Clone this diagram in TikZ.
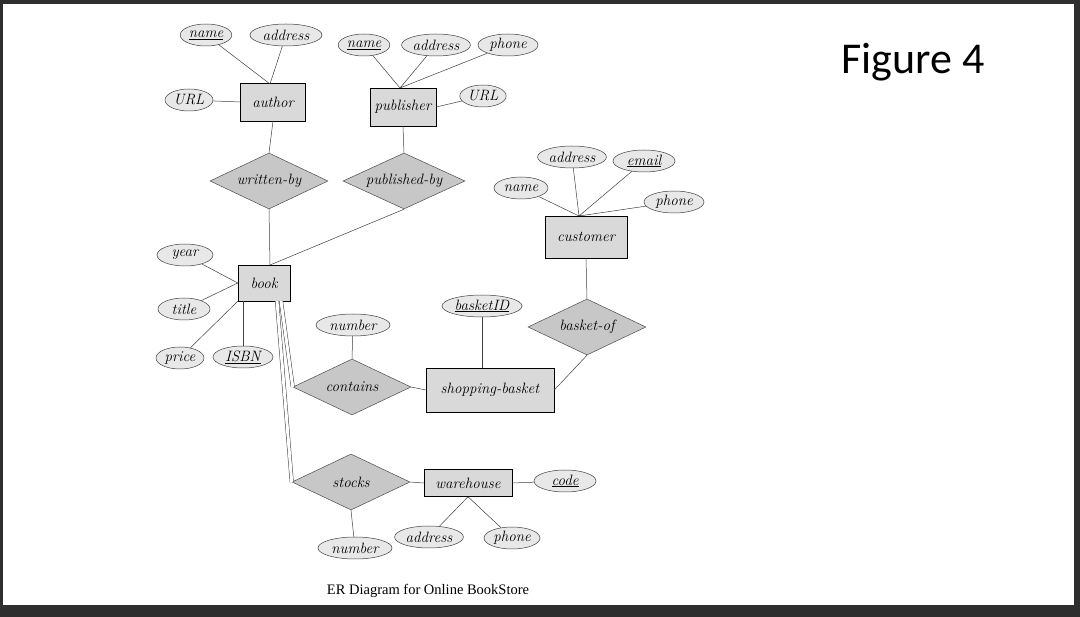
\documentclass[tikz,border=0pt]{standalone}
\usepackage{fontspec}
\newfontfamily\figfont{Carlito}
\newfontfamily\capfont{Liberation Serif}
\usetikzlibrary{shapes.geometric}
\begin{document}
\begin{tikzpicture}[x=1pt,y=-1pt,line width=0.5pt,
 attr/.style={ellipse,draw=black!75,fill=black!9,minimum height=22,inner sep=1pt,font=\itshape\fontsize{15}{15}\selectfont},
 ent/.style={rectangle,draw,fill=black!15,minimum height=38,inner sep=2pt,font=\itshape\fontsize{15}{15}\selectfont},
 rel/.style={diamond,draw=black!70,fill=black!22,aspect=2.1,minimum width=118,minimum height=56,inner sep=0pt,font=\itshape\fontsize{15}{15}\selectfont},
 ln/.style={draw=black!75},
 dbl/.style={draw=black!75,double,double distance=3pt}]
\fill[black!82] (0,0) rectangle (1080,617);
\fill[white] (3,4) rectangle (1074,605);
% entities
\node[ent,minimum width=65] (author) at (273,102) {author};
\node[ent,minimum width=66] (publisher) at (403,107) {publisher};
\node[ent,minimum width=82,minimum height=42] (customer) at (586,237) {customer};
\node[ent,minimum width=52,minimum height=36] (book) at (264,283) {book};
\node[ent,minimum width=128,minimum height=44] (basket) at (490,390) {shopping-basket};
\node[ent,minimum width=88,minimum height=27] (warehouse) at (468,483) {warehouse};
% relationships
\node[rel] (written) at (269,181) {\makebox[0pt]{written-by}};
\node[rel,minimum width=122] (published) at (404,181) {\makebox[0pt]{published-by}};
\node[rel] (basketof) at (587,327) {\makebox[0pt]{basket-of}};
\node[rel] (contains) at (352,387) {\makebox[0pt]{contains}};
\node[rel] (stocks) at (351,482) {\makebox[0pt]{stocks}};
% attributes
\node[attr,minimum width=50] (aname) at (206,35) {\underline{name}};
\node[attr,minimum width=72] (aaddr) at (286,35) {address};
\node[attr,minimum width=48] (aurl) at (189,100) {URL};
\node[attr,minimum width=50] (pname) at (364,45) {\underline{name}};
\node[attr,minimum width=64] (paddr) at (436,45) {address};
\node[attr,minimum width=60] (pphone) at (508,45) {phone};
\node[attr,minimum width=44] (purl) at (483,96) {URL};
\node[attr,minimum width=54] (cname) at (521,188) {name};
\node[attr,minimum width=62] (caddr) at (572,157) {address};
\node[attr,minimum width=62] (cemail) at (644,161) {\underline{email}};
\node[attr,minimum width=60] (cphone) at (674,202) {phone};
\node[attr,minimum width=72] (bid) at (482,306) {\underline{basketID}};
\node[attr,minimum width=56] (year) at (185,255) {year};
\node[attr,minimum width=52] (title) at (184,309) {title};
\node[attr,minimum width=48] (price) at (180,358) {price};
\node[attr,minimum width=60] (isbn) at (243,357) {\underline{ISBN}};
\node[attr,minimum width=74] (num1) at (353,325) {number};
\node[attr,minimum width=62] (code) at (565,481) {\underline{code}};
\node[attr,minimum width=62] (waddr) at (429,537) {address};
\node[attr,minimum width=56] (wphone) at (512,538) {phone};
\node[attr,minimum width=74] (num2) at (355,548) {number};
% connectors
\coordinate (atop) at (270,84);
\draw[ln] (aname) -- (atop) (aaddr) -- (atop);
\draw[ln] (aurl) -- (author.west);
\draw[ln] (author.south) -- (written.north);
\coordinate (ptop) at (400,88);
\draw[ln] (pname) -- (ptop) (paddr) -- (ptop) (pphone) -- (ptop);
\draw[ln] (purl) -- (publisher.east);
\draw[ln] (publisher.south) -- (published.north);
\coordinate (btop) at (270,265);
\draw[ln] (written.south) -- (btop);
\draw[ln] (published.south) -- (btop);
\coordinate (ctop) at (579,216);
\draw[ln] (cname) -- (ctop) (caddr) -- (ctop) (cemail) -- (ctop) (cphone) -- (ctop);
\draw[ln] (customer.south) -- (basketof.north);
\draw[ln] (basketof.south) -- (basket.east);
\coordinate (bidb) at (482,368);
\draw[ln] (bid) -- (bidb);
\draw[ln] (contains.east) -- (basket.west);
\draw[ln] (num1) -- (contains.north);
\draw[ln] (year) -- (book.west);
\draw[ln] (title) -- (book.west);
\draw[ln] (price) -- (book.south west);
\coordinate (isbnt) at (243,301);
\draw[ln] (isbn) -- (isbnt);
\coordinate (bc) at (281,301);
\coordinate (bs) at (277,301);
\draw[dbl] (bc) -- (contains.west);
\draw[dbl] (bs) -- (stocks.west);
\draw[ln] (stocks.east) -- (warehouse.west);
\draw[ln] (warehouse.east) -- (code);
\draw[ln] (stocks.south) -- (num2);
\draw[ln] (waddr) -- (warehouse.south) -- (wphone);
% texts
\node (fig) at (913,62) {\figfont\fontsize{44}{44}\selectfont Figure 4};
\node (cap) at (428,591) {\capfont\fontsize{14.5}{15}\selectfont ER Diagram for Online BookStore};
\end{tikzpicture}
\end{document}
